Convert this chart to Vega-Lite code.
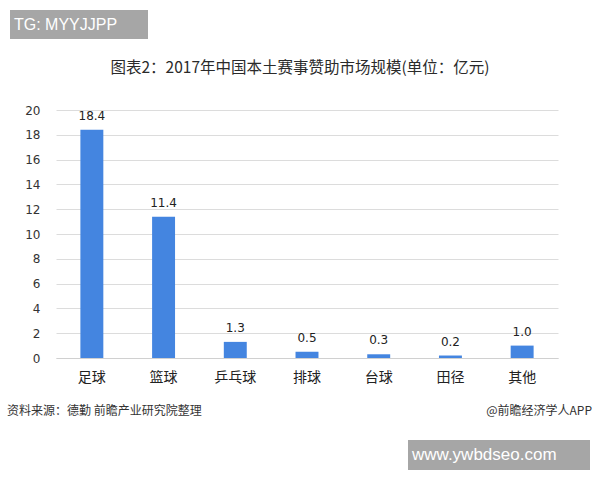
{
  "$schema": "https://vega.github.io/schema/vega-lite/v6.json",
  "width": 502,
  "height": 248,
  "autosize": {"type": "none"},
  "padding": {"left": 56, "top": 110, "right": 42, "bottom": 122},
  "background": "white",
  "config": {
    "font": "Noto Sans CJK SC",
    "view": {"stroke": null}
  },
  "layer": [
    {
      "data": {"values": [
        {"category": "足球", "value": 18.4, "label": "18.4"},
        {"category": "篮球", "value": 11.4, "label": "11.4"},
        {"category": "乒乓球", "value": 1.3, "label": "1.3"},
        {"category": "排球", "value": 0.5, "label": "0.5"},
        {"category": "台球", "value": 0.3, "label": "0.3"},
        {"category": "田径", "value": 0.2, "label": "0.2"},
        {"category": "其他", "value": 1.0, "label": "1.0"}
      ]},
      "encoding": {
        "x": {"field": "category", "type": "nominal", "sort": null,
          "scale": {"paddingInner": 0.68, "paddingOuter": 0.34},
          "axis": {"title": null, "labelAngle": 0, "labelFontSize": 14, "labelColor": "#222222",
            "labelPadding": 12, "ticks": false, "domainColor": "#d0d0d0", "labelFont": "Noto Sans CJK SC"}},
        "y": {"field": "value", "type": "quantitative",
          "scale": {"domain": [0, 20], "nice": false},
          "axis": {"title": null, "values": [0,2,4,6,8,10,12,14,16,18,20], "labelOverlap": false, "ticks": false, "domain": false,
            "gridColor": "#dcdcdc", "labelFontSize": 12, "labelColor": "#333333", "labelPadding": 16,
            "labelFont": "DejaVu Sans"}}
      },
      "layer": [
        {
          "mark": {"type": "bar", "color": "#4485e0"}
        },
        {
          "mark": {"type": "text", "baseline": "bottom", "dy": -7, "fontSize": 12, "color": "#222222", "font": "DejaVu Sans"},
          "encoding": {
            "text": {"field": "label"}
          }
        }
      ]
    },
    {
      "data": {"values": [{}]},
      "mark": {"type": "text", "text": "图表2：2017年中国本土赛事赞助市场规模(单位：亿元)", "fontSize": 15.5, "align": "center", "baseline": "middle", "color": "#2a2a2a"},
      "encoding": {"x": {"value": 244}, "y": {"value": -42}}
    },
    {
      "data": {"values": [{}]},
      "mark": {"type": "rect", "color": "#a6a6a6"},
      "encoding": {"x": {"value": -46}, "x2": {"value": 92}, "y": {"value": -100}, "y2": {"value": -71}}
    },
    {
      "data": {"values": [{}]},
      "mark": {"type": "text", "text": "TG: MYYJJPP", "fontSize": 16, "font": "Liberation Sans", "align": "left", "baseline": "middle", "color": "white"},
      "encoding": {"x": {"value": -42}, "y": {"value": -85}}
    },
    {
      "data": {"values": [{}]},
      "mark": {"type": "rect", "color": "#a6a6a6"},
      "encoding": {"x": {"value": 352}, "x2": {"value": 534}, "y": {"value": 330}, "y2": {"value": 360}}
    },
    {
      "data": {"values": [{}]},
      "mark": {"type": "text", "text": "www.ywbdseo.com", "fontSize": 17, "font": "Liberation Sans", "align": "left", "baseline": "middle", "color": "white"},
      "encoding": {"x": {"value": 356}, "y": {"value": 345}}
    },
    {
      "data": {"values": [{}]},
      "mark": {"type": "text", "text": "资料来源：德勤 前瞻产业研究院整理", "fontSize": 12, "align": "left", "baseline": "middle", "color": "#333333"},
      "encoding": {"x": {"value": -49}, "y": {"value": 301}}
    },
    {
      "data": {"values": [{}]},
      "mark": {"type": "text", "text": "@前瞻经济学人APP", "fontSize": 12, "align": "right", "baseline": "middle", "color": "#333333"},
      "encoding": {"x": {"value": 536}, "y": {"value": 301}}
    }
  ]
}
